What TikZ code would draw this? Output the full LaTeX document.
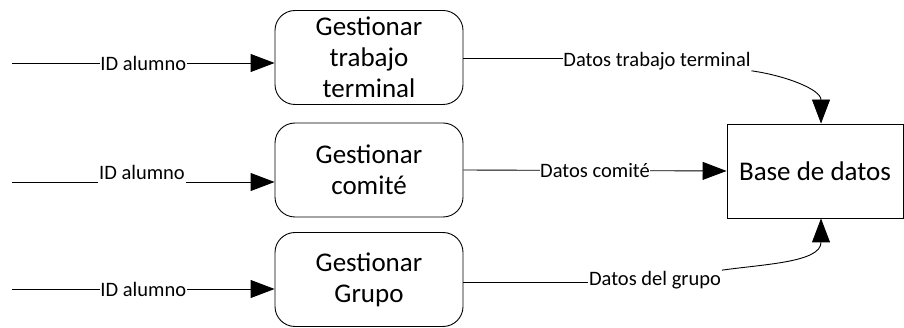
\documentclass[tikz,border=0pt]{standalone}
\usepackage{fontspec}
\setmainfont{Carlito}
\usetikzlibrary{arrows.meta,calc}
\begin{document}
\begin{tikzpicture}[x=1pt,y=-1pt,line width=0.9pt,
  proc/.style={draw,rounded corners=20pt,minimum width=188pt,minimum height=94pt,
    align=center,font=\fontsize{27}{31}\selectfont,inner sep=0pt},
  store/.style={draw,minimum width=176pt,minimum height=94pt,
    font=\fontsize{27}{30}\selectfont,inner sep=0pt},
  flow/.style={font=\fontsize{20.5}{22}\selectfont,inner sep=0.5pt},
  inl/.style={flow,fill=white},
  tip/.style={-{Triangle[length=24pt,width=18pt]}}]
\useasboundingbox (0,0) rectangle (904,328);
% processes
\node[proc] (g1) at (369,57.5) {Gestionar\\trabajo\\terminal};
\node[proc] (g2) at (369,170) {Gestionar\\comité};
\node[proc] (g3) at (369,279.5) {Gestionar\\Grupo};
% data store
\node[store] (db) at (815,171) {Base de datos};
% incoming flows
\coordinate (s1) at (12,63);
\coordinate (s2) at (12,182);
\coordinate (s3) at (12,289);
\draw[tip] (s1) -- node[inl] {ID alumno} (g1.west |- s1);
\node[flow] (l2) at (142,172) {ID alumno};
\draw (s2) -- (s2 -| l2.west);
\draw[tip] (l2.east |- s2) -- (g2.west |- s2);
\draw[tip] (s3) -- node[inl] {ID alumno} (g3.west |- s3);
% outgoing flows
\node[flow] (o1) at (657,61) {Datos trabajo terminal};
\draw (g1.east |- 0,58) -- (o1.west |- 0,58);
\draw[tip] (o1.south east) to[out=-8,in=90] ($(db.north)+(6,0)$);
\draw[tip] (g2.east) -- node[inl] {Datos comité} (db.west);
\node[flow] (o3) at (655,280) {Datos del grupo};
\draw (g3.east |- 0,282) -- (o3.west |- 0,282);
\draw[tip] (o3.north east) to[out=8,in=-90] ($(db.south)+(6,0)$);
\end{tikzpicture}
\end{document}
